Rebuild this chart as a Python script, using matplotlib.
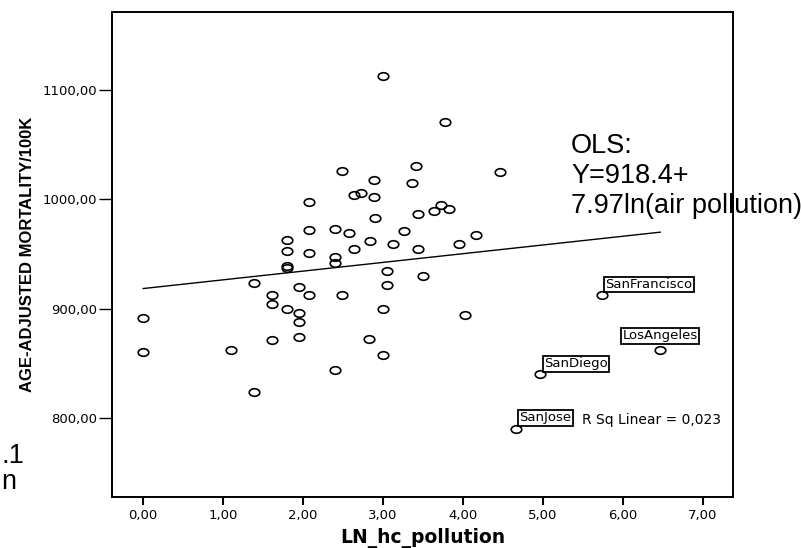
import numpy as np
import matplotlib
matplotlib.use("Agg")
import matplotlib.pyplot as plt
from matplotlib.path import Path
from matplotlib.transforms import Affine2D

# LN of hydrocarbon pollution vs age-adjusted mortality (60 SMSAs)
ln_hc = [3.00, 3.77, 2.49, 3.41, 2.89, 3.36, 2.64, 2.72, 2.89, 2.08,
         2.90, 3.44, 3.64, 3.72, 3.82, 2.08, 2.40, 2.57, 3.26, 1.80,
         1.80, 2.08, 2.64, 2.84, 3.13, 3.44, 2.40, 2.40, 1.80, 1.80,
         3.05, 3.50, 1.39, 3.05, 1.61, 1.95, 2.08, 2.49, 1.61, 1.80,
         1.95, 1.95, 3.00, 0.00, 0.00, 1.10, 1.61, 1.95, 2.83, 3.00,
         2.40, 1.39, 4.47, 3.95, 4.17, 4.03, 5.74, 6.47, 4.97, 4.66]
mortality = [1112.5, 1070.6, 1025.8, 1030.3, 1017.9, 1015.2, 1003.9, 1006.1, 1002.1, 997.9,
             982.7, 986.4, 989.7, 994.8, 991.5, 971.5, 972.7, 968.8, 970.9, 962.7,
             953.0, 950.9, 954.8, 961.5, 959.1, 954.2, 947.0, 941.8, 939.4, 937.0,
             934.9, 929.7, 923.2, 922.0, 912.2, 920.2, 912.2, 912.5, 904.6, 899.7,
             895.7, 887.8, 899.4, 891.7, 860.2, 861.8, 871.3, 874.3, 871.9, 857.5,
             844.3, 823.5, 1024.9, 959.0, 967.5, 894.2, 912.2, 862.1, 839.8, 790.2]

# labelled cities (index into the arrays above)
city_names = ["SanFrancisco", "LosAngeles", "SanDiego", "SanJose"]
city_index = [56, 57, 58, 59]

# OLS fit as reported on the slide
ols_intercept = 918.4
ols_slope = 7.97
r_sq = "0,023"

x_ticks = [0, 1, 2, 3, 4, 5, 6, 7]
x_tick_labels = ["0,00", "1,00", "2,00", "3,00", "4,00", "5,00", "6,00", "7,00"]
y_ticks = [800, 900, 1000, 1100]
y_tick_labels = ["800,00", "900,00", "1000,00", "1100,00"]


def main():
    fig = plt.figure(figsize=(8.01, 5.48), dpi=100)
    ax = fig.add_axes([0.1404, 0.0931, 0.7747, 0.885])

    # the original picture is stretched sideways, so circles are ellipses
    ellipse = Path.unit_circle().transformed(Affine2D().scale(1.4, 1.0))
    ax.plot(ln_hc, mortality, linestyle="none", marker=ellipse, markersize=7.6,
            markerfacecolor="none", markeredgecolor="black", markeredgewidth=1.2)

    # fit line over the data range
    x_fit = np.array([min(ln_hc), max(ln_hc)])
    ax.plot(x_fit, ols_intercept + ols_slope * x_fit, color="black", linewidth=1.0)

    # city labels in boxes
    box = dict(boxstyle="square,pad=0.1", facecolor="white", edgecolor="black", linewidth=1.3)
    for name, i in zip(city_names, city_index):
        if name == "LosAngeles":
            ax.annotate(name, (ln_hc[i], mortality[i]), xytext=(0, 5.5), textcoords="offset points",
                        ha="center", va="bottom", fontsize=9.5, family="DejaVu Sans", bbox=box)
        else:
            ax.annotate(name, (ln_hc[i], mortality[i]), xytext=(2.5, 3), textcoords="offset points",
                        ha="left", va="bottom", fontsize=9.5, family="DejaVu Sans", bbox=box)

    ax.text(5.49, 798, "R Sq Linear = " + r_sq, ha="left", va="center",
            fontsize=10, family="DejaVu Sans")

    ax.set_xlim(-0.385, 7.38)
    ax.set_ylim(727.7, 1171.4)
    ax.set_xticks(x_ticks)
    ax.set_xticklabels(x_tick_labels, family="DejaVu Sans", fontsize=9.5)
    ax.set_yticks(y_ticks)
    ax.set_yticklabels(y_tick_labels, family="DejaVu Sans", fontsize=9.5)
    ax.tick_params(axis="x", length=5.8, width=1.5, pad=3, direction="out")
    ax.tick_params(axis="y", length=9.4, width=1.0, pad=1.5, direction="out")
    for side in ax.spines.values():
        side.set_linewidth(1.4)

    ax.set_xlabel("LN_hc_pollution", family="DejaVu Sans", fontweight="bold", fontsize=13.5)
    ax.set_ylabel("AGE-ADJUSTED MORTALITY/100K", family="Liberation Sans",
                  fontweight="bold", fontsize=12)
    ax.yaxis.set_label_coords(-0.125, 0.5)
    ax.xaxis.set_label_coords(0.5, -0.064)

    # slide annotation pasted over the chart
    fig.text(571 / 801, 1 - 133 / 548, "OLS:\nY=918.4+\n7.97ln(air pollution)",
             ha="left", va="top", fontsize=19.5, family="Liberation Sans")

    # slide text at the left edge (cut off in the original)
    fig.text(1 / 801, 1 - 463 / 548, ".1", ha="left", va="baseline",
             fontsize=19.5, family="Liberation Sans")
    fig.text(1 / 801, 1 - 489 / 548, "n", ha="left", va="baseline",
             fontsize=19.5, family="Liberation Sans")

    fig.savefig("out.png", dpi=100)
    print('Done')


if __name__ == '__main__':
    main()
